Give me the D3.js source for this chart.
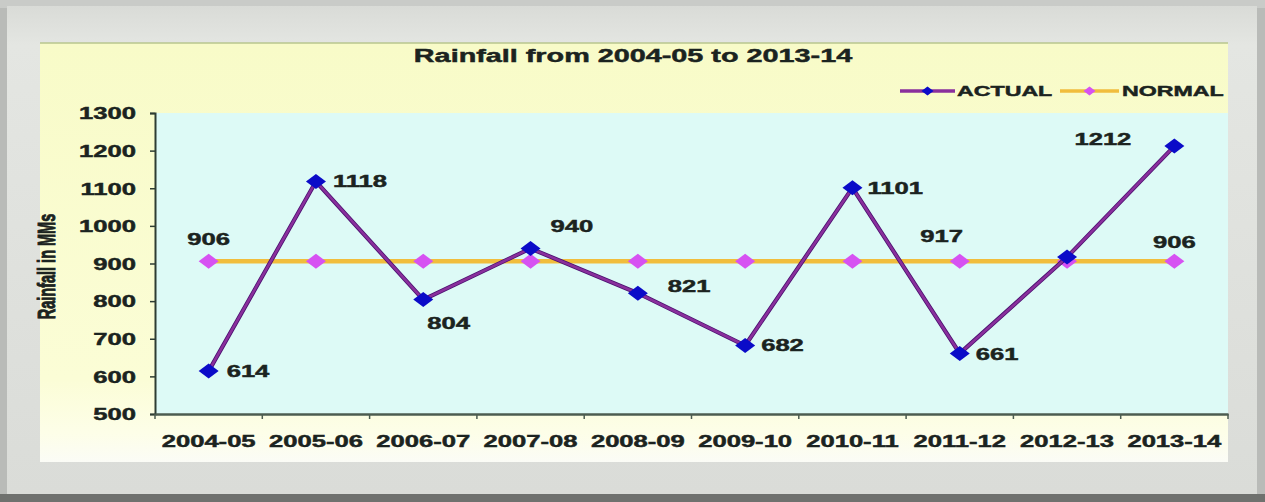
<!DOCTYPE html>
<html>
<head>
<meta charset="utf-8">
<script src="https://cdn.jsdelivr.net/npm/d3@7"></script>
<style>
  html, body { margin: 0; padding: 0; background: #b9bbb8; }
  svg { display: block; }
</style>
</head>
<body>
<svg id="chart" width="1265" height="502"></svg>
<script>
// ---------------- data ----------------
const categories = ["2004-05","2005-06","2006-07","2007-08","2008-09","2009-10","2010-11","2011-12","2012-13","2013-14"];
const actual = [614, 1118, 804, 940, 821, 682, 1101, 661, 917, 1212];
const normal = [906, 906, 906, 906, 906, 906, 906, 906, 906, 906];
const yTicks = [500, 600, 700, 800, 900, 1000, 1100, 1200, 1300];
const seriesNames = ["ACTUAL", "NORMAL"];
const titleText = "Rainfall from 2004-05 to 2013-14";
const yAxisTitle = "Rainfall in MMs";
const normalLabelIndex = [0, 9];

// ---------------- layout / style ----------------
const W = 1265, H = 502;
const SX = 1.6; // horizontal stretch of the original picture's text
const FONT = "'Liberation Sans', Arial, sans-serif";
const TXT = "#1b2320";
const TSTROKE = 0.45;
const panel = {x: 40, y: 43, w: 1188, h: 419};
const plot = {left: 155, right: 1228, top: 113, bottom: 414};
// label placement relative to marker: [anchor, dx, dy]
const actualLabelPlace = [
  ["start", 18, 0], ["start", 17, 0], ["start", 4, 24], ["start", 20, -22], ["start", 30, -7],
  ["start", 16, 0], ["start", 15, 0], ["start", 16, 1], ["end", -104, -21], ["end", -43, -7]
];
const normalLabelPlace = {0: ["middle", 0, -22], 9: ["middle", 0, -19]};

const svg = d3.select("#chart");
const defs = svg.append("defs");

// frame gradient
const fg = defs.append("linearGradient").attr("id", "frameG").attr("x1", 0).attr("y1", 0).attr("x2", 0).attr("y2", 1);
fg.append("stop").attr("offset", "0").attr("stop-color", "#d9dbd7");
fg.append("stop").attr("offset", "0.08").attr("stop-color", "#e4e6e2");
fg.append("stop").attr("offset", "1").attr("stop-color", "#dadcd8");

const pg = defs.append("linearGradient").attr("id", "panelG").attr("x1", 0).attr("y1", 0).attr("x2", 0).attr("y2", 1);
pg.append("stop").attr("offset", "0").attr("stop-color", "#f8fbc8");
pg.append("stop").attr("offset", "0.8").attr("stop-color", "#fbfdd6");
pg.append("stop").attr("offset", "0.93").attr("stop-color", "#fdfee8");
pg.append("stop").attr("offset", "1").attr("stop-color", "#fbfcf6");

// outer frame
svg.append("rect").attr("x", 0).attr("y", 0).attr("width", W).attr("height", H).attr("fill", "#b9bbb8");
svg.append("rect").attr("x", 0).attr("y", 0).attr("width", W).attr("height", 8).attr("fill", "#c9cbc8");
svg.append("rect").attr("x", 0).attr("y", 494).attr("width", W).attr("height", 8).attr("fill", "#6f716e");
svg.append("rect").attr("x", 7).attr("y", 6).attr("width", 1250).attr("height", 488).attr("fill", "url(#frameG)");

// inner panel
svg.append("rect").attr("x", panel.x).attr("y", panel.y).attr("width", panel.w).attr("height", panel.h)
  .attr("fill", "url(#panelG)");
svg.append("line").attr("x1", panel.x).attr("x2", panel.x + panel.w).attr("y1", panel.y).attr("y2", panel.y)
  .attr("stroke", "#b9c68e").attr("stroke-width", 1.5);

// plot area
svg.append("rect").attr("x", plot.left).attr("y", plot.top)
  .attr("width", plot.right - plot.left).attr("height", plot.bottom - plot.top)
  .attr("fill", "#ddfaf6");

// scales
const x = d3.scaleBand().domain(categories).range([plot.left, plot.right]);
const cx = c => x(c) + x.bandwidth() / 2;
const y = d3.scaleLinear().domain([500, 1300]).range([plot.bottom, plot.top]);

// helper for stretched text
function stretchedText(parent, px, py, str, size, anchor) {
  return parent.append("text")
    .attr("transform", `translate(${px},${py}) scale(${SX},1)`)
    .attr("text-anchor", anchor || "start")
    .attr("dy", "0.36em")
    .attr("font-family", FONT).attr("font-weight", "bold")
    .attr("font-size", size).attr("fill", TXT)
    .attr("stroke", TXT).attr("stroke-width", TSTROKE)
    .text(str);
}

// y axis
const yAxisG = svg.append("g").attr("transform", `translate(${plot.left},0)`)
  .call(d3.axisLeft(y).tickValues(yTicks).tickSize(5).tickFormat(d3.format("d")));
yAxisG.select(".domain").attr("stroke", "#2e3d33").attr("stroke-width", 2);
yAxisG.selectAll(".tick line").attr("stroke", "#2e3d33").attr("stroke-width", 1.5);
yAxisG.selectAll(".tick text")
  .attr("x", null).attr("dy", "0.36em")
  .attr("transform", `translate(-19,0) scale(${SX},1)`)
  .attr("font-family", FONT).attr("font-weight", "bold").attr("font-size", 16).attr("fill", TXT)
  .attr("stroke", TXT).attr("stroke-width", TSTROKE);

// x axis
const xAxisG = svg.append("g").attr("transform", `translate(0,${plot.bottom})`)
  .call(d3.axisBottom(x).tickSize(0).tickPadding(0));
xAxisG.select(".domain").attr("stroke", "#4c5c50").attr("stroke-width", 2.5);
xAxisG.selectAll(".tick text")
  .attr("y", null).attr("dy", "0.36em")
  .attr("transform", `translate(0,27) scale(${SX},1)`)
  .attr("font-family", FONT).attr("font-weight", "bold").attr("font-size", 16).attr("fill", TXT)
  .attr("stroke", TXT).attr("stroke-width", TSTROKE);
// boundary tick marks
xAxisG.selectAll("line.bt").data(d3.range(categories.length + 1)).join("line")
  .attr("class", "bt")
  .attr("x1", i => plot.left + i * x.step()).attr("x2", i => plot.left + i * x.step())
  .attr("y1", 0).attr("y2", 5)
  .attr("stroke", "#4c5c50").attr("stroke-width", 1.5);

// y axis title (rotated, stretched across)
svg.append("text")
  .attr("transform", `translate(47,${(plot.top + plot.bottom) / 2 + 3}) scale(${SX},1) rotate(-90)`)
  .attr("text-anchor", "middle").attr("dy", "0.36em")
  .attr("font-family", FONT).attr("font-weight", "bold").attr("font-size", 14.5).attr("fill", TXT)
  .attr("stroke", TXT).attr("stroke-width", 0.6)
  .text(yAxisTitle);

// title
stretchedText(svg, 633, 56, titleText, 18, "middle");

// diamond path
const diamond = (w, h) => `M0,${-h}L${w},0L0,${h}L${-w},0Z`;

// normal series
const normalData = categories.map((c, i) => ({c, v: normal[i], i}));
const actualData = categories.map((c, i) => ({c, v: actual[i], i}));
const line = d3.line().x(d => cx(d.c)).y(d => y(d.v));

svg.append("path").datum(normalData).attr("d", line)
  .attr("fill", "none").attr("stroke", "#f1bd3c").attr("stroke-width", 4.5);
svg.selectAll("path.nm").data(normalData).join("path").attr("class", "nm")
  .attr("transform", d => `translate(${cx(d.c)},${y(d.v)})`)
  .attr("d", diamond(10, 7.5)).attr("fill", "#d652f2");

// actual series
svg.append("path").datum(actualData).attr("d", line)
  .attr("fill", "none").attr("stroke", "#4a1070").attr("stroke-width", 4.2);
svg.append("path").datum(actualData).attr("d", line)
  .attr("fill", "none").attr("stroke", "#8a2f9c").attr("stroke-width", 2.6);
svg.selectAll("path.am").data(actualData).join("path").attr("class", "am")
  .attr("transform", d => `translate(${cx(d.c)},${y(d.v)})`)
  .attr("d", diamond(10, 7.5)).attr("fill", "#0b0bc8");

// labels
actualData.forEach(d => {
  const [anc, dx, dy] = actualLabelPlace[d.i];
  stretchedText(svg, cx(d.c) + dx, y(d.v) + dy, String(d.v), 16, anc);
});
normalLabelIndex.forEach(i => {
  const [anc, dx, dy] = normalLabelPlace[i];
  stretchedText(svg, cx(categories[i]) + dx, y(normal[i]) + dy, String(normal[i]), 16, anc);
});

// legend
const legendY = 91;
const legendItems = [
  {name: seriesNames[0], x1: 900, x2: 955, lc: "#8a2f9c", mc: "#0b0bc8", tx: 957},
  {name: seriesNames[1], x1: 1060, x2: 1119, lc: "#f1bd3c", mc: "#d652f2", tx: 1122}
];
legendItems.forEach(it => {
  svg.append("line").attr("x1", it.x1).attr("x2", it.x2).attr("y1", legendY).attr("y2", legendY)
    .attr("stroke", it.lc).attr("stroke-width", 3.5);
  svg.append("path").attr("transform", `translate(${(it.x1 + it.x2) / 2},${legendY})`)
    .attr("d", diamond(6, 4.5)).attr("fill", it.mc);
  stretchedText(svg, it.tx, legendY, it.name, 14.5, "start");
});
</script>
</body>
</html>
